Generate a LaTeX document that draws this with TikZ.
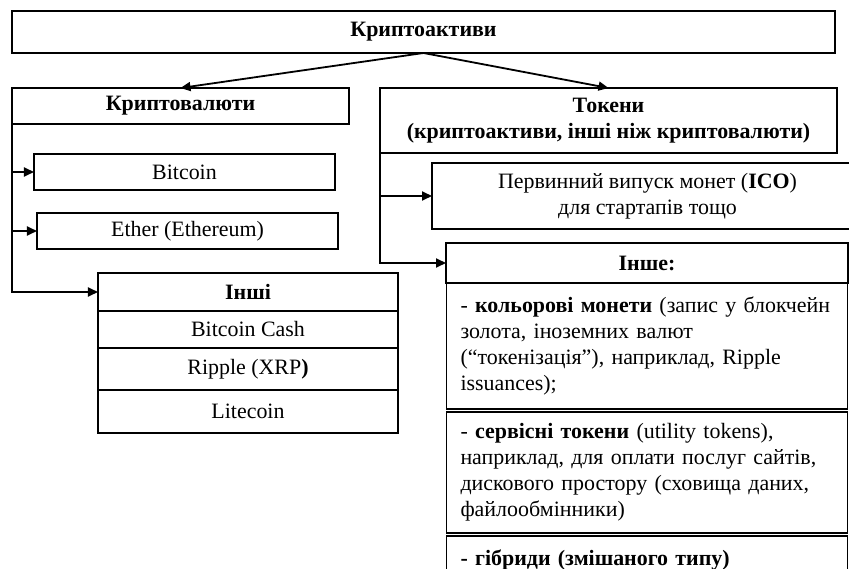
\documentclass[tikz,border=0pt]{standalone}
\usepackage{fontspec}
\setmainfont{Liberation Serif}
\usepackage{tikz}
\usetikzlibrary{arrows.meta,positioning}
\tikzset{
    blok/.style={
        rectangle,
        draw,
        line width=1.1bp,
        align=center,
        inner sep=4bp,
        outer sep=0pt,
        font=\fontsize{22}{26}\selectfont
    },
    zagolovok/.style={blok, font=\fontsize{22}{26}\selectfont\bfseries},
    ryadok/.style={blok, minimum width=300bp},
    zmist/.style={
        blok,
        align=left,
        text width=373bp,
        inner xsep=14bp
    },
    strilka/.style={-{Triangle[length=10bp,width=9bp]}, line width=1.8bp}
}

\begin{document}
\begin{tikzpicture}[x=1bp, y=-1bp]
        \useasboundingbox (0,0) rectangle (849,569);
        \clip (0,0) rectangle (849,569);

        \node[zagolovok, minimum width=823bp, minimum height=42bp] (aktyvy) at (423.5,32) {Криптоактиви};

        % криптовалюти
        \node[zagolovok, minimum width=337bp, minimum height=36bp] (valyuty) at (180.5,106) {Криптовалюти};
        \node[blok, minimum width=301bp, minimum height=36bp] (bitcoin) at (184.5,172) {Bitcoin};
        \node[blok, minimum width=301bp, minimum height=36bp] (ether) at (187.5,231) {Ether (Ethereum)};
        \node[ryadok, zagolovok, minimum height=38bp] (inshi) at (248,292) {Інші};
        \node[ryadok, below=0pt of inshi, minimum height=37bp] (bch) {Bitcoin Cash};
        \node[ryadok, below=0pt of bch, minimum height=42bp] (xrp) {Ripple (XRP\textbf{)}};
        \node[ryadok, below=0pt of xrp, minimum height=43bp] (ltc) {Litecoin};

        % токени
        \node[zagolovok, minimum width=457bp, minimum height=65bp] (tokeny) at (608.5,120.5) {Токени\\(криптоактиви, інші ніж криптовалюти)};
        \node[blok, minimum width=431bp, minimum height=66bp] (ico) at (647.5,196) {Первинний випуск монет (\textbf{ICO})\\для стартапів тощо};
        \node[zagolovok, minimum width=402bp, minimum height=40bp] (inshe) at (647,263) {Інше:};
        \node[zmist, below=0pt of inshe, minimum height=126bp] (kolorovi) {\mbox{- \textbf{кольорові монети} (запис у блокчейн}\\золота, іноземних валют\\(“токенізація”), наприклад, Ripple\\issuances);};
        \node[zmist, below=3bp of kolorovi, minimum height=121bp] (servisni) {- \textbf{сервісні токени} (utility tokens),\\наприклад, для оплати послуг сайтів,\\дискового простору (сховища даних,\\файлообмінники)};
        \node[zmist, below=3bp of servisni, text height=25bp, text depth=40bp] (hibrydy) {\textbf{- гібриди (змішаного типу)}};

        \draw[strilka] (aktyvy.south) -- (valyuty.north);
        \draw[strilka] (aktyvy.south) -- (tokeny.north);
        \draw[strilka] (valyuty.south west |- bitcoin.west) -- (bitcoin.west);
        \draw[strilka] (valyuty.south west |- ether.west) -- (ether.west);
        \draw[strilka] (valyuty.south west) |- (inshi.west);
        \draw[strilka] (tokeny.south west |- ico.west) -- (ico.west);
        \draw[strilka] (tokeny.south west) |- (inshe.west);
    \end{tikzpicture}
\end{document}
